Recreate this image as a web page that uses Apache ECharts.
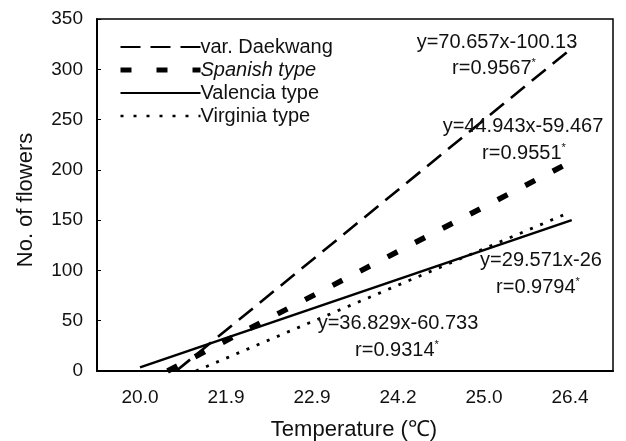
<!DOCTYPE html>
<html>
<head>
<meta charset="utf-8">
<script src="https://cdn.jsdelivr.net/npm/echarts@6/dist/echarts.min.js"></script>
<style>
  html, body { margin: 0; padding: 0; background: #fff; }
  #main { width: 626px; height: 441px; }
</style>
</head>
<body>
<div id="main"></div>
<script>
// x tick labels (temperature, evenly spaced categories)
const tempLabels = ['20.0', '21.9', '22.9', '24.2', '25.0', '26.4'];

// fitted lines (x = category position 1..6)
const daekwangX = [1.42, 6.05];
const daekwangY = [0, 323];
const spanishX = [1.32, 5.92];
const spanishY = [0, 204];
const valenciaX = [1.0, 6.02];
const valenciaY = [3.6, 150];
const virginiaX = [1.65, 5.92];
const virginiaY = [0, 155];

const FONT = '"Liberation Sans", Arial, sans-serif';

function pairs(xs, ys) {
  return xs.map((x, i) => [x, ys[i]]);
}

// label for the equation + r value
function note(x, y, text) {
  return {
    type: 'text',
    x: x,
    y: y,
    style: {
      text: text,
      font: '20px ' + FONT,
      fill: '#111',
      align: 'center',
      verticalAlign: 'middle',
      rich: {
        t: { fontSize: 20, fontFamily: FONT, color: '#111' },
        s: { fontSize: 11, fontFamily: FONT, color: '#111', padding: [0, 0, 11, 0] }
      }
    },
    z: 10
  };
}

const chart = echarts.init(document.getElementById('main'));

const noMark = { opacity: 0 };

const option = {
  backgroundColor: '#fff',
  animation: false,
  grid: {
    left: 97, right: 13, top: 19, bottom: 70,
    show: true, borderColor: '#000', borderWidth: 1.5
  },
  legend: {
    orient: 'vertical',
    left: 113,
    top: 32,
    itemWidth: 80,
    itemHeight: 14,
    itemGap: 3,
    textStyle: { fontSize: 20, fontFamily: FONT, color: '#111', padding: [0, 0, 0, -5] },
    data: [
      { name: 'var. Daekwang', itemStyle: noMark, lineStyle: { width: 2.2, type: [20, 10] } },
      { name: 'Spanish type', itemStyle: noMark, lineStyle: { width: 5, type: [11, 25] }, textStyle: { fontStyle: 'italic' } },
      { name: 'Valencia type', itemStyle: noMark, lineStyle: { width: 2.2 } },
      { name: 'Virginia type', itemStyle: noMark, lineStyle: { width: 2.5, type: [3, 10] } }
    ]
  },
  xAxis: [
    {
      type: 'category',
      data: tempLabels,
      boundaryGap: true,
      axisLine: { lineStyle: { color: '#000', width: 2 } },
      axisTick: { inside: true, length: 4, lineStyle: { color: '#000' } },
      axisLabel: { fontSize: 19, fontFamily: FONT, color: '#111', margin: 17 },
      splitLine: { show: false }
    },
    {
      type: 'value',
      min: 0.5,
      max: 6.5,
      show: false
    }
  ],
  yAxis: {
    type: 'value',
    min: 0,
    max: 350,
    interval: 50,
    axisLine: { show: true, lineStyle: { color: '#000', width: 2 } },
    axisTick: { show: true, inside: true, length: 4, lineStyle: { color: '#000' } },
    axisLabel: { fontSize: 19, fontFamily: FONT, color: '#111', margin: 14 },
    splitLine: { show: false }
  },
  series: [
    {
      name: 'var. Daekwang', type: 'line', xAxisIndex: 1, showSymbol: false, symbol: 'none',
      data: pairs(daekwangX, daekwangY),
      itemStyle: { color: '#000' },
      lineStyle: { color: '#000', width: 2.6, type: [18, 9] }
    },
    {
      name: 'Spanish type', type: 'line', xAxisIndex: 1, showSymbol: false, symbol: 'none',
      data: pairs(spanishX, spanishY),
      itemStyle: { color: '#000' },
      lineStyle: { color: '#000', width: 5.5, type: [11, 20] }
    },
    {
      name: 'Valencia type', type: 'line', xAxisIndex: 1, showSymbol: false, symbol: 'none',
      data: pairs(valenciaX, valenciaY),
      itemStyle: { color: '#000' },
      lineStyle: { color: '#000', width: 2.6 }
    },
    {
      name: 'Virginia type', type: 'line', xAxisIndex: 1, showSymbol: false, symbol: 'none',
      data: pairs(virginiaX, virginiaY),
      itemStyle: { color: '#000' },
      lineStyle: { color: '#000', width: 2.8, type: [3, 8] }
    }
  ],
  graphic: [
    {
      type: 'text', x: 26, y: 200, rotation: Math.PI / 2,
      style: { text: 'No. of flowers', font: '22px ' + FONT, fill: '#111', align: 'center', verticalAlign: 'middle' }
    },
    {
      type: 'text', x: 354, y: 430,
      style: { text: 'Temperature (℃)', font: '22px ' + FONT, fill: '#111', align: 'center', verticalAlign: 'middle' }
    },
    note(497, 42, '{t|y=70.657x-100.13}'),
    note(494, 68, '{t|r=0.9567}{s|*}'),
    note(523, 126, '{t|y=44.943x-59.467}'),
    note(524, 153, '{t|r=0.9551}{s|*}'),
    note(541, 260, '{t|y=29.571x-26}'),
    note(538, 287, '{t|r=0.9794}{s|*}'),
    note(398, 323, '{t|y=36.829x-60.733}'),
    note(397, 350, '{t|r=0.9314}{s|*}')
  ]
};

chart.setOption(option);
</script>
</body>
</html>
